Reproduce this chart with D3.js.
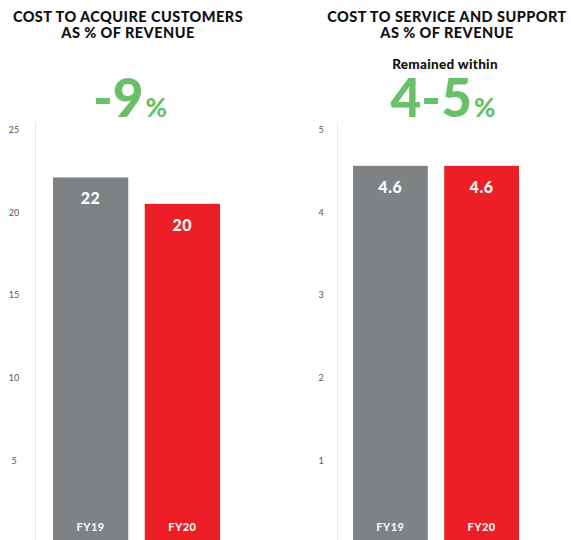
<!DOCTYPE html>
<html><head><meta charset="utf-8">
<script src="https://cdn.jsdelivr.net/npm/d3@7/dist/d3.min.js"></script>
<style>body{margin:0;background:#fff}svg{display:block}</style>
</head><body>
<script>
const categories = ["FY19", "FY20"];
const acquireValues = [22.1, 20.5];
const acquireLabels = ["22", "20"];
const acquireTicks = [5, 10, 15, 20, 25];
const serviceValues = [4.56, 4.56];
const serviceLabels = ["4.6", "4.6"];
const serviceTicks = [1, 2, 3, 4, 5];
const colors = ["#7e8285", "#ec1f26"];
const green = "#6abf69";
const font = "Lato, 'Open Sans', 'DejaVu Sans', sans-serif";

const svg = d3.select("body").append("svg").attr("width", 571).attr("height", 540);

const panels = [
  {x0: 35, tickX: 14, barRange: [53, 220], max: 25, values: acquireValues, labels: acquireLabels, ticks: acquireTicks,
   title: ["COST TO ACQUIRE CUSTOMERS", "AS % OF REVENUE"], cx: 128, big: "-9", sub: null, bigCx: 130},
  {x0: 337, tickX: 321, barRange: [353, 519], max: 5, values: serviceValues, labels: serviceLabels, ticks: serviceTicks,
   title: ["COST TO SERVICE AND SUPPORT", "AS % OF REVENUE"], cx: 447, big: "4-5", sub: "Remained within", bigCx: 443}
];

panels.forEach(p => {
  const g = svg.append("g");
  const y = d3.scaleLinear().domain([0, p.max]).range([542.5, 129.5]);
  const x = d3.scaleBand().domain(categories).range(p.barRange).paddingInner(0.18).paddingOuter(0);

  g.append("line").attr("x1", p.x0 + 0.5).attr("x2", p.x0 + 0.5).attr("y1", 122).attr("y2", 540)
    .attr("stroke", "#e8e8e8").attr("stroke-width", 1);

  const axis = d3.axisLeft(y).tickValues(p.ticks).tickSize(0).tickPadding(0).tickFormat(d3.format("d"));
  const ag = g.append("g").attr("transform", `translate(${p.tickX},0)`).call(axis);
  ag.select(".domain").remove();
  ag.selectAll("text").attr("font-family", font).attr("font-size", 9).attr("fill", "#555")
    .attr("text-anchor", "middle").attr("dy", "0.35em");

  g.selectAll("rect.bar").data(p.values).join("rect").attr("class", "bar")
    .attr("x", (d, i) => x(categories[i])).attr("width", x.bandwidth())
    .attr("y", d => y(d)).attr("height", d => y(0) - y(d))
    .attr("fill", (d, i) => colors[i]);

  g.selectAll("text.val").data(p.values).join("text").attr("class", "val")
    .attr("x", (d, i) => x(categories[i]) + x.bandwidth() / 2)
    .attr("y", d => y(d) + 27)
    .attr("text-anchor", "middle").attr("font-family", font).attr("font-weight", 900)
    .attr("font-size", 16).attr("letter-spacing", 0.6).attr("fill", "#fff")
    .text((d, i) => p.labels[i]);

  g.selectAll("text.cat").data(categories).join("text").attr("class", "cat")
    .attr("x", d => x(d) + x.bandwidth() / 2).attr("y", 531)
    .attr("text-anchor", "middle").attr("font-family", font).attr("font-weight", 900)
    .attr("font-size", 11).attr("letter-spacing", 0.5).attr("fill", "#f4f4f4").text(d => d);

  p.title.forEach((t, i) => {
    g.append("text").attr("x", p.cx).attr("y", 22 + i * 16).attr("text-anchor", "middle")
      .attr("font-family", font).attr("font-weight", 900).attr("font-size", 14.5)
      .attr("letter-spacing", 0.45).attr("fill", "#111")
      .text(t);
  });

  if (p.sub) {
    g.append("text").attr("x", p.cx - 2).attr("y", 69).attr("text-anchor", "middle")
      .attr("font-family", font).attr("font-weight", 900).attr("font-size", 13.5)
      .attr("letter-spacing", 0.3).attr("fill", "#111")
      .text(p.sub);
  }

  const bt = g.append("text").attr("x", p.bigCx).attr("y", 117).attr("text-anchor", "middle")
    .attr("font-family", font).attr("font-weight", 900).attr("fill", green);
  bt.append("tspan").attr("font-size", 53).text(p.big);
  bt.append("tspan").attr("font-size", 26).attr("dx", 2).text("%");
});
</script>
</body></html>
